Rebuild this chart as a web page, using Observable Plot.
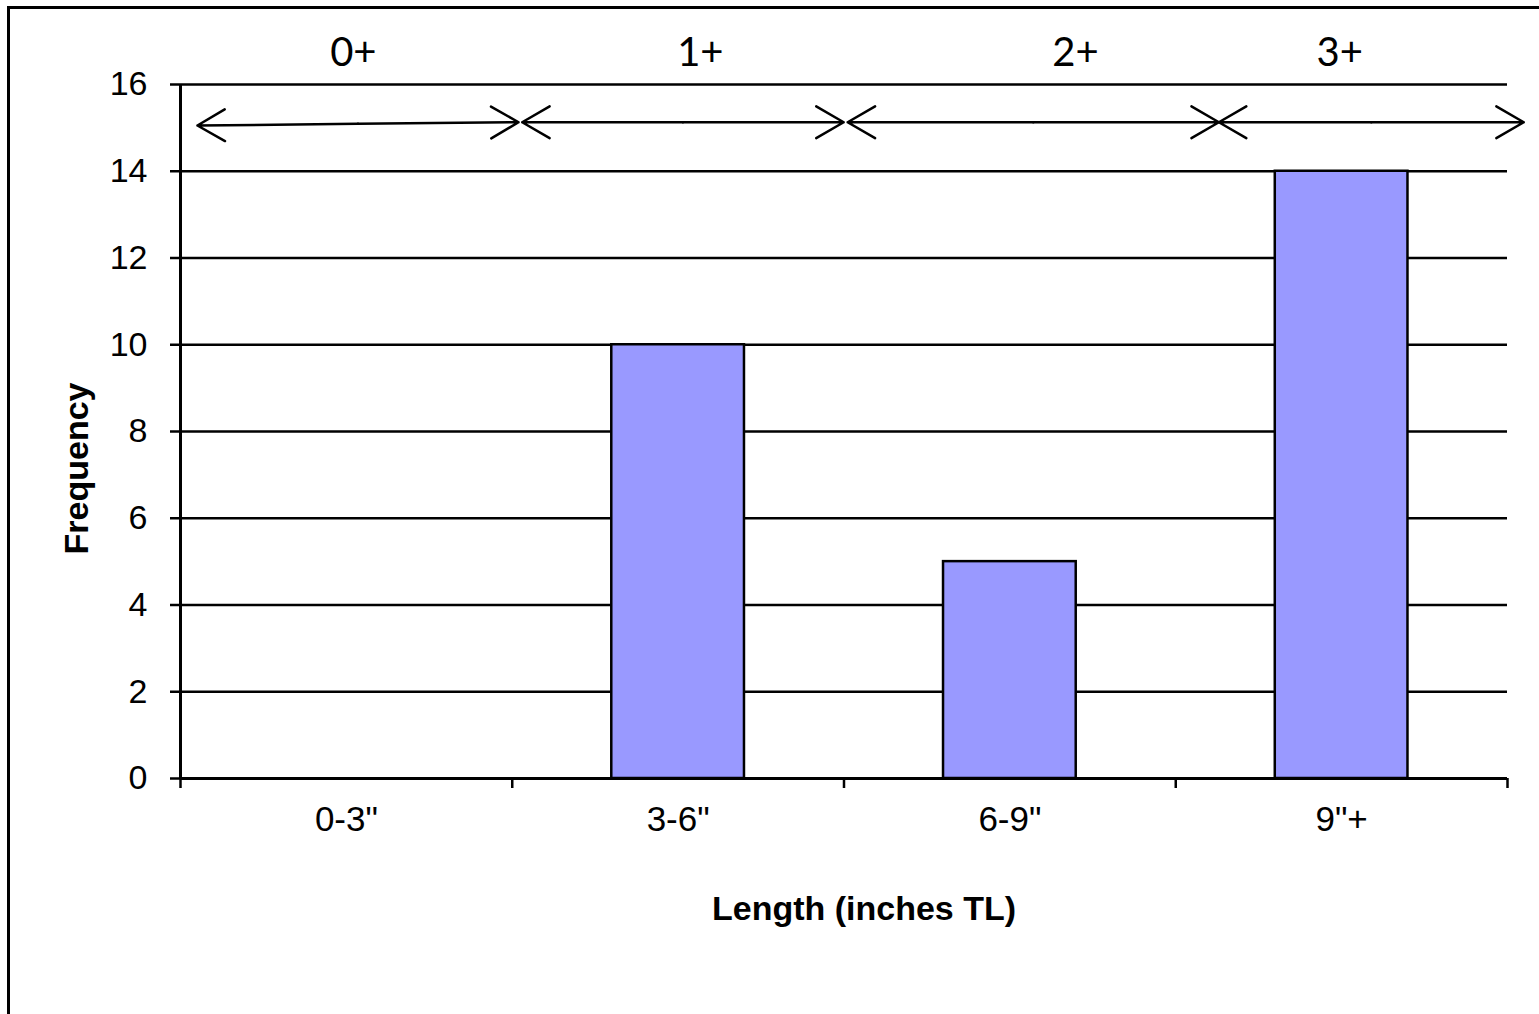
<!DOCTYPE html>
<html>
<head>
<meta charset="utf-8">
<script src="https://cdn.jsdelivr.net/npm/d3@7"></script>
<script src="https://cdn.jsdelivr.net/npm/@observablehq/plot@0.6"></script>
<style>
  html, body { margin: 0; padding: 0; background: #fff; overflow: hidden; }
  #wrap { position: relative; width: 1539px; height: 1014px; }
  #border { position: absolute; left: 7px; top: 6px; width: 1600px; height: 1100px;
            border: 3px solid #000; box-sizing: border-box; }
  #chart { position: absolute; left: 0; top: 0; }
</style>
</head>
<body>
<div id="wrap"><div id="border"></div><div id="chart"></div></div>
<script>
// Length-frequency of the sample, by total-length class
const lengthClasses = ['0-3"', '3-6"', '6-9"', '9"+'];
const frequency = [0, 10, 5, 14];
const yTicks = [0, 2, 4, 6, 8, 10, 12, 14, 16];
const classEdges = [0, 1, 2, 3, 4];

// Age classes spanning the length classes (double-headed arrows above the bars)
const ageClasses = ["0+", "1+", "2+", "3+"];
const ageSpanFrom = [0.051, 1.030, 2.011, 3.130];
const ageSpanTo = [1.019, 1.999, 3.130, 4.049];
const ageSpanFromY = [15.055, 15.13, 15.13, 15.13];
const ageSpanToY = [15.13, 15.13, 15.13, 15.13];
const ageLabelX = [0.521, 1.567, 2.698, 3.494];

const bars = lengthClasses
  .map((cls, i) => ({cls, i, freq: frequency[i]}))
  .filter(d => d.freq > 0);

const spans = ageClasses.map((age, i) => ({
  age,
  x1: ageSpanFrom[i], x2: ageSpanTo[i],
  y1: ageSpanFromY[i], y2: ageSpanToY[i],
  xm: (ageSpanFrom[i] + ageSpanTo[i]) / 2,
  ym: (ageSpanFromY[i] + ageSpanToY[i]) / 2,
  lx: ageLabelX[i]
}));

const ink = "#000";
const lineW = 2.5;
const arrowStyle = {stroke: ink, strokeWidth: lineW, headAngle: 60, headLength: 19};

const chart = Plot.plot({
  width: 1539,
  height: 1014,
  marginLeft: 180,
  marginRight: 32,
  marginTop: 84,
  marginBottom: 236,
  style: {
    fontFamily: "'Liberation Sans', Arial, sans-serif",
    fontSize: "34px",
    color: "#000",
    background: "transparent",
    overflow: "visible"
  },
  x: {type: "linear", domain: [0, 4], axis: null},
  y: {domain: [0, 16], axis: null},
  marks: [
    // horizontal gridlines
    Plot.ruleY(yTicks.filter(t => t > 0), {stroke: ink, strokeWidth: lineW}),
    // frequency bars, centred in each length class
    Plot.rectY(bars, {
      x1: d => d.i + 0.3,
      x2: d => d.i + 0.7,
      y: "freq",
      fill: "#9999FF",
      stroke: ink,
      strokeWidth: lineW
    }),
    // axis lines
    Plot.ruleX([0], {stroke: ink, strokeWidth: 3}),
    Plot.ruleY([0], {stroke: ink, strokeWidth: 3}),
    Plot.axisY(yTicks, {
      tickSize: 10, tickPadding: 23, fontSize: 34,
      stroke: ink, strokeWidth: lineW, label: null
    }),
    // class boundary ticks
    Plot.axisX(classEdges, {
      tickSize: 10, tickFormat: () => "",
      stroke: ink, strokeWidth: lineW, label: null
    }),
    // class names under each class
    Plot.axisX(classEdges.slice(0, -1).map(e => e + 0.5), {
      tickSize: 0, tickPadding: 28, fontSize: 35,
      tickFormat: d => lengthClasses[Math.floor(d)], label: null
    }),
    // age-class arrows, drawn from the middle out to both heads
    Plot.arrow(spans, {x1: "xm", y1: "ym", x2: "x1", y2: "y1", ...arrowStyle}),
    Plot.arrow(spans, {x1: "xm", y1: "ym", x2: "x2", y2: "y2", ...arrowStyle}),
    Plot.text(spans, {
      x: "lx", text: "age", frameAnchor: "top", lineAnchor: "middle", dy: -31,
      fontFamily: "Lato, 'Open Sans', sans-serif", fontSize: 40
    }),
    // axis titles
    Plot.text(["Frequency"], {
      frameAnchor: "left", textAnchor: "middle", lineAnchor: "middle",
      dx: -103, dy: 37, rotate: -90,
      fontWeight: "bold", fontSize: 34
    }),
    Plot.text(["Length (inches TL)"], {
      frameAnchor: "bottom", textAnchor: "middle", lineAnchor: "middle",
      dx: 20, dy: 131,
      fontWeight: "bold", fontSize: 34
    })
  ]
});

document.getElementById("chart").appendChild(chart);
</script>
</body>
</html>
